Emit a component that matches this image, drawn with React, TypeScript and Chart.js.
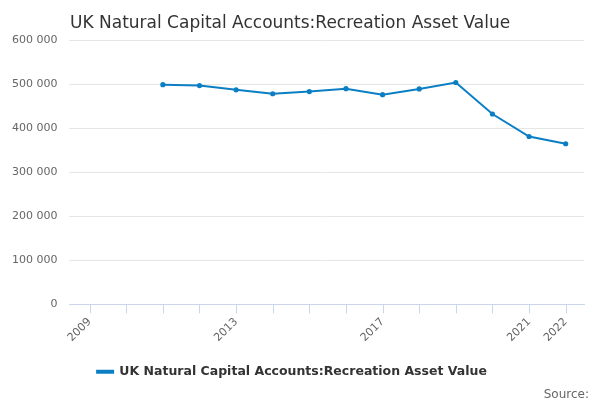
import React, { useEffect, useRef } from "react";
import { Chart, registerables } from "chart.js";
Chart.register(...registerables);

const years = [2011, 2012, 2013, 2014, 2015, 2016, 2017, 2018, 2019, 2020, 2021, 2022];
const values = [498500, 496500, 487000, 478000, 483000, 489500, 476000, 489000, 503500, 432000, 381000, 364500];
const shownYears = [2009, 2013, 2017, 2021, 2022];
const seriesName = "UK Natural Capital Accounts:Recreation Asset Value";

export default function App() {
  const ref = useRef<HTMLCanvasElement>(null);
  useEffect(() => {
    const font = "'DejaVu Sans', sans-serif";
    const chart = new Chart(ref.current!, {
      type: "line",
      data: {
        datasets: [{
          label: seriesName,
          data: years.map((y, i) => ({ x: y, y: values[i] })),
          borderColor: "#0b7fc4",
          backgroundColor: "#0b7fc4",
          borderWidth: 2,
          pointRadius: 1.6,
          tension: 0,
        }],
      },
      options: {
        animation: false,
        responsive: false,
        layout: { padding: { left: 0, right: 16, top: 40, bottom: 12 } },
        plugins: {
          legend: {
            position: "bottom",
            labels: {
              color: "#333", font: { family: font, size: 12.5, weight: "bold" },
              boxWidth: 16, boxHeight: 2, padding: 18,
            },
          },
          tooltip: { enabled: false },
        },
        scales: {
          x: {
            type: "linear", min: 2008.45, max: 2022.5,
            afterBuildTicks: (s: any) => { s.ticks = []; for (let y = 2009; y <= 2022; y++) s.ticks.push({ value: y }); },
            ticks: {
              autoSkip: false, maxRotation: 45, minRotation: 45, color: "#666",
              font: { family: font, size: 11 },
              callback: (v: any) => (shownYears.includes(v) ? String(v) : ""),
            },
            grid: { display: false, drawTicks: true, tickLength: 8, color: "#ccd6eb" },
            border: { color: "#ccd6eb" },
          },
          y: {
            min: 0, max: 600000,
            ticks: {
              stepSize: 100000, color: "#666", font: { family: font, size: 11 }, padding: 12,
              callback: (v: any) => String(v).replace(/\B(?=(\d{3})+(?!\d))/g, " "),
            },
            grid: { color: "#e6e6e6", drawTicks: false },
            border: { display: false },
          },
        },
      },
      plugins: [{
        id: "xticks",
        afterDraw(c: any) {
          const ctx = c.ctx, x = c.scales.x, b = c.chartArea.bottom;
          ctx.save(); ctx.strokeStyle = "#ccd6eb"; ctx.lineWidth = 1;
          for (let y = 2009; y <= 2022; y++) {
            const px = Math.round(x.getPixelForValue(y)) + 0.5;
            ctx.beginPath(); ctx.moveTo(px, b); ctx.lineTo(px, b + 9); ctx.stroke();
          }
          ctx.fillStyle = "#333"; ctx.font = "17px " + font; ctx.textAlign = "left";
          ctx.fillText(seriesName, 70, 24);
          ctx.fillStyle = "#666"; ctx.font = "12px " + font; ctx.textAlign = "right";
          ctx.fillText("Source:", 589, 395);
          ctx.restore();
        },
      }],
    } as any);
    return () => chart.destroy();
  }, []);
  return <canvas ref={ref} width={600} height={400} style={{ position: "absolute", left: 0, top: 0 }} />;
}
